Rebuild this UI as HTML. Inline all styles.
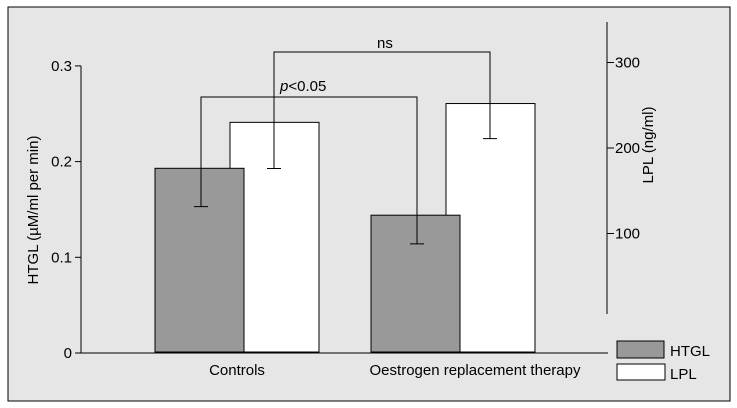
<!DOCTYPE html>
<html><head><meta charset="utf-8"><style>
body{margin:0;background:#fff}
svg{display:block;font-family:"Liberation Sans",sans-serif}
</style></head><body>
<svg id="c" width="737" height="408" viewBox="0 0 737 408">
<rect x="8" y="7" width="722" height="394" fill="#e6e6e6" stroke="#000" stroke-width="1"/>
<g id="plot"></g>
</svg>
<script>
const categories=["Controls","Oestrogen replacement therapy"];
const htglValues=[0.193,0.144];
const htglErrLow=[0.153,0.114];
const lplValues=[230,252];
const lplErrLow=[176,211];
const leftTicks=[0,0.1,0.2,0.3];
const leftTickLabels=["0","0.1","0.2","0.3"];
const rightTicks=[100,200,300];
const rightTickLabels=["100","200","300"];

const NS="http://www.w3.org/2000/svg";
const g=document.getElementById('plot');
function yL(v){return 353-v*957;}
function yR(v){return 319-v*0.855;}
function el(t,a,txt){const e=document.createElementNS(NS,t);for(const k in a)e.setAttribute(k,a[k]);if(txt!=null)e.textContent=txt;g.appendChild(e);return e;}
const groupX=[155,371];
const htglW=89, lplOff=75, lplW=89;

// left axis
let ax=el('line',{x1:81,y1:yL(0.3),x2:81,y2:yL(0),stroke:'#000'});


leftTicks.forEach((v,i)=>{
  let t=el('line',{x1:75,x2:81,y1:yL(v),y2:yL(v),stroke:'#000'});
  
  
  let l=el('text',{x:72,y:yL(v)+5,'text-anchor':'end','font-size':15},leftTickLabels[i]);
  
  
});
let yt=el('text',{x:0,y:0,'text-anchor':'middle','font-size':15,transform:'translate(38,210) rotate(-90)'},'HTGL (µM/ml per min)');



// right axis
let rx=el('line',{x1:607,y1:22,x2:607,y2:314,stroke:'#000'});


rightTicks.forEach((v,i)=>{
  let t=el('line',{x1:607,x2:614,y1:yR(v),y2:yR(v),stroke:'#000'});
  
  
  let l=el('text',{x:615,y:yR(v)+5,'font-size':15},rightTickLabels[i]);
  
  
});
let rt=el('text',{x:0,y:0,'text-anchor':'middle','font-size':15,transform:'translate(653,145) rotate(-90)'},'LPL (ng/ml)');



// bars
const lplErrX=[],htglErrX=[];
categories.forEach((c,i)=>{
  const x0=groupX[i];
  let lb=el('rect',{x:x0+lplOff,y:yR(lplValues[i]),width:lplW,height:352-yR(lplValues[i]),fill:'#fff',stroke:'#000'});
  
  
  let hb=el('rect',{x:x0,y:yL(htglValues[i]),width:htglW,height:352-yL(htglValues[i]),fill:'#999',stroke:'#000'});
  
  
  const hx=x0+46, lx=x0+lplOff+44;
  htglErrX.push(hx);lplErrX.push(lx);
  let he=el('path',{d:`M${hx} ${yL(htglValues[i])}V${yL(htglErrLow[i])}M${hx-7} ${yL(htglErrLow[i])}H${hx+7}`,stroke:'#000',fill:'none'});
  
  
  let le=el('path',{d:`M${lx} ${yR(lplValues[i])}V${yR(lplErrLow[i])}M${lx-7} ${yR(lplErrLow[i])}H${lx+7}`,stroke:'#000',fill:'none'});
  
  
  let cl=el('text',{x:i==0?237:475,y:375,'text-anchor':'middle','font-size':15},c);
  
  
});
// baseline
let bl=el('line',{x1:81,y1:353,x2:608,y2:353,stroke:'#000'});



// brackets
let b1=el('path',{d:`M${htglErrX[0]} ${yL(htglValues[0])}V97H${htglErrX[1]}V${yL(htglValues[1])}`,stroke:'#000',fill:'none'});


let b2=el('path',{d:`M${lplErrX[0]} ${yR(lplValues[0])}V52H${lplErrX[1]}V${yR(lplValues[1])}`,stroke:'#000',fill:'none'});


let p=el('text',{x:280,y:91,'font-size':15});


p.innerHTML='<tspan font-style="italic">p</tspan>&lt;0.05';
let ns=el('text',{x:377,y:48,'font-size':15},'ns');



// legend
let l1=el('rect',{x:617,y:341,width:47,height:17,fill:'#999',stroke:'#000'});


let l1t=el('text',{x:670,y:356,'font-size':15},'HTGL');


let l2=el('rect',{x:617,y:364,width:48,height:16,fill:'#fff',stroke:'#000'});


let l2t=el('text',{x:670,y:379,'font-size':15},'LPL');


</script>
</body></html>
